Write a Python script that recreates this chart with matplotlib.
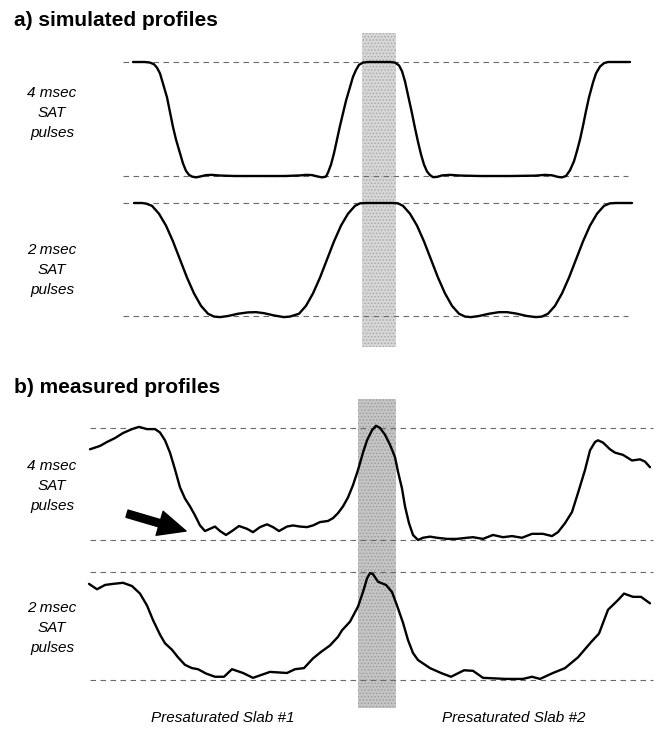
import matplotlib
matplotlib.use("Agg")
import matplotlib.pyplot as plt

plt.rcParams['font.family'] = ['Liberation Sans', 'DejaVu Sans']
plt.rcParams['hatch.linewidth'] = 0.6

# profile data: x = position across the slab (px-like units), y = signal (0 = saturated, 1 = full)
sim4_x = [133, 145, 150, 154, 157, 160, 163, 167, 170, 173, 176, 180, 183, 186, 189, 192, 196, 200, 206, 212,
          220, 235, 260, 285, 300, 306, 312, 318, 322, 326, 328, 331, 334, 337, 340, 343, 346, 350, 353, 356,
          359, 363, 368, 390, 395, 399, 402, 405, 408, 412, 415, 418, 421, 424, 427, 430, 433, 437, 442, 450,
          460, 480, 510, 535, 545, 552, 558, 562, 566, 570, 574, 577, 580, 583, 586, 589, 593, 596, 600, 604,
          608, 630]
sim4_y = [1.0, 1.0, 0.995, 0.98, 0.95, 0.90, 0.81, 0.69, 0.56, 0.43, 0.32, 0.20, 0.11, 0.045, 0.01, -0.005,
          -0.012, -0.005, 0.008, 0.01, 0.004, 0.0, 0.0, 0.0, 0.005, 0.01, 0.008, -0.005, -0.012, -0.005, 0.03,
          0.10, 0.20, 0.32, 0.44, 0.55, 0.66, 0.78, 0.87, 0.93, 0.975, 0.995, 1.0, 1.0, 0.995, 0.97, 0.92,
          0.83, 0.71, 0.55, 0.42, 0.30, 0.19, 0.10, 0.04, 0.008, -0.01, -0.008, 0.005, 0.01, 0.004, 0.0, 0.0,
          0.003, 0.01, 0.006, -0.008, -0.012, 0.0, 0.05, 0.13, 0.22, 0.32, 0.44, 0.57, 0.69, 0.82, 0.90, 0.96,
          0.99, 1.0, 1.0]

sim2_x = [134, 142, 146, 152, 159, 166, 173, 180, 187, 194, 201, 208, 214, 220, 228, 238, 248, 256, 264, 274,
          284, 290, 299, 306, 313, 320, 327, 334, 341, 348, 355, 360, 366, 392, 398, 403, 410, 417, 424, 431,
          438, 445, 452, 459, 465, 471, 479, 489, 499, 507, 516, 527, 536, 542, 548, 555, 562, 569, 576, 583,
          590, 597, 604, 610, 616, 632]
sim2_y = [1.0, 1.0, 0.995, 0.975, 0.905, 0.80, 0.66, 0.50, 0.34, 0.20, 0.09, 0.02, -0.005, -0.01, 0.0, 0.02,
          0.032, 0.034, 0.025, 0.005, -0.01, -0.005, 0.02, 0.09, 0.20, 0.34, 0.50, 0.66, 0.80, 0.905, 0.975,
          0.997, 1.0, 1.0, 0.997, 0.975, 0.905, 0.80, 0.66, 0.50, 0.34, 0.20, 0.09, 0.02, -0.005, -0.01, 0.0,
          0.02, 0.034, 0.034, 0.022, 0.0, -0.01, -0.005, 0.02, 0.09, 0.20, 0.34, 0.50, 0.66, 0.80, 0.905,
          0.975, 0.997, 1.0, 1.0]

meas4_x = [90, 100, 107, 115, 123, 132, 139, 147, 155, 160, 165, 170, 175, 180, 185, 190, 195, 200, 205, 210,
           215, 220, 226, 232, 239, 247, 253, 260, 267, 273, 279, 287, 293, 300, 307, 313, 320, 328, 333, 338,
           343, 348, 353, 358, 363, 367, 372, 376, 380, 385, 390, 395, 398, 402, 405, 409, 413, 418, 423, 430,
           437, 447, 457, 467, 473, 483, 493, 503, 512, 522, 532, 543, 552, 558, 565, 572, 578, 585, 590, 595,
           598, 603, 610, 615, 623, 632, 640, 645, 650]
meas4_y = [0.81, 0.84, 0.875, 0.91, 0.955, 0.99, 1.01, 0.99, 0.99, 0.96, 0.89, 0.78, 0.63, 0.47, 0.37, 0.30,
           0.22, 0.13, 0.08, 0.10, 0.12, 0.08, 0.045, 0.08, 0.125, 0.10, 0.07, 0.115, 0.14, 0.115, 0.08, 0.12,
           0.13, 0.12, 0.115, 0.13, 0.16, 0.17, 0.195, 0.24, 0.30, 0.38, 0.49, 0.625, 0.78, 0.89, 0.98, 1.02,
           1.0, 0.94, 0.85, 0.74, 0.61, 0.46, 0.30, 0.15, 0.045, 0.0, 0.02, 0.03, 0.02, 0.01, 0.01, 0.02,
           0.025, 0.01, 0.045, 0.025, 0.035, 0.02, 0.055, 0.055, 0.035, 0.07, 0.15, 0.25, 0.42, 0.625, 0.80,
           0.875, 0.89, 0.87, 0.81, 0.78, 0.76, 0.71, 0.72, 0.70, 0.65]

meas2_x = [89, 97, 105, 113, 123, 132, 140, 147, 153, 160, 165, 172, 178, 185, 192, 198, 206, 215, 224, 232,
           243, 253, 270, 287, 295, 304, 313, 321, 330, 338, 342, 350, 358, 363, 367, 370, 373, 378, 386, 392,
           397, 403, 408, 413, 418, 422, 430, 441, 451, 464, 473, 483, 506, 523, 532, 540, 553, 565, 578, 591,
           599, 608, 618, 624, 633, 641, 650]
meas2_y = [0.89, 0.84, 0.88, 0.89, 0.90, 0.87, 0.80, 0.69, 0.555, 0.42, 0.34, 0.28, 0.21, 0.14, 0.11, 0.10,
           0.06, 0.03, 0.03, 0.10, 0.065, 0.02, 0.075, 0.065, 0.10, 0.11, 0.20, 0.26, 0.32, 0.40, 0.46, 0.54,
           0.68, 0.815, 0.94, 0.99, 0.98, 0.91, 0.88, 0.815, 0.69, 0.53, 0.37, 0.25, 0.185, 0.16, 0.11, 0.065,
           0.03, 0.09, 0.085, 0.02, 0.01, 0.01, 0.03, 0.01, 0.065, 0.11, 0.21, 0.35, 0.43, 0.65, 0.74, 0.80,
           0.77, 0.77, 0.71]

row_labels = ['4 msec\nSAT\npulses', '2 msec\nSAT\npulses', '4 msec\nSAT\npulses', '2 msec\nSAT\npulses']
slab_labels = ['Presaturated Slab #1', 'Presaturated Slab #2']

W, H = 660, 729
fig = plt.figure(figsize=(W / 100, H / 100), dpi=100)


def make_axes(top, bottom):
    ax = fig.add_axes([0, (H - bottom) / H, 1, (bottom - top) / H])
    ax.set_xlim(0, W)
    ax.set_ylim(0, 1)
    ax.axis('off')
    return ax


# shaded band (the slab between the two presaturated ones)
band_a = make_axes(33, 347)
band_a.axvspan(362, 396, facecolor='#d6d6d6', hatch='.....', edgecolor='#a8a8a8', lw=0)
band_b = make_axes(399, 708)
band_b.axvspan(358, 396, facecolor='#c4c4c4', hatch='.....', edgecolor='#9a9a9a', lw=0)

panels = [
    (62, 176, sim4_x, sim4_y, (123, 628), 113),
    (203, 316, sim2_x, sim2_y, (123, 628), 270),
    (428, 540, meas4_x, meas4_y, (90, 653), 486),
    (572, 680, meas2_x, meas2_y, (90, 653), 628),
]

axes = []
for i, (top, bot, xs, ys, span, label_y) in enumerate(panels):
    ax = make_axes(top, bot)
    ax.hlines([0, 1], span[0], span[1], colors='#6a6a6a', lw=0.8, linestyles=(0, (5, 4)), clip_on=False)
    ax.plot(xs, ys, color='black', lw=1.7, clip_on=False, solid_joinstyle='round', solid_capstyle='round')
    fig.text(52 / W, 1 - label_y / H, row_labels[i], ha='center', va='center',
             style='italic', fontsize=11, linespacing=1.55)
    axes.append(ax)

# arrow pointing at the ripple in the measured 4 msec profile
axes[2].annotate('', xy=(186, 0.08), xytext=(127, 0.235),
                 arrowprops=dict(arrowstyle='simple,head_length=1.1,head_width=1.0,tail_width=0.3',
                                 mutation_scale=18, fc='black', ec='black', shrinkA=0, shrinkB=0))

fig.text(14 / W, 1 - 26 / H, 'a) simulated profiles', fontsize=15, fontweight='bold', va='baseline')
fig.text(14 / W, 1 - 393 / H, 'b) measured profiles', fontsize=15, fontweight='bold', va='baseline')

fig.text(223 / W, 1 - 718 / H, slab_labels[0], ha='center', va='center', style='italic', fontsize=11)
fig.text(514 / W, 1 - 718 / H, slab_labels[1], ha='center', va='center', style='italic', fontsize=11)

fig.savefig('out.png', dpi=100)
